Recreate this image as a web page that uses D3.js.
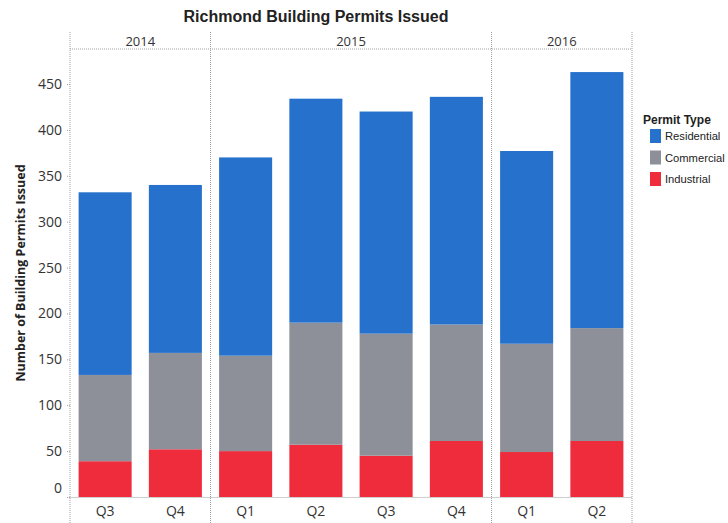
<!DOCTYPE html>
<html>
<head>
<meta charset="utf-8">
<script src="https://cdn.jsdelivr.net/npm/d3@7"></script>
<style>
  html, body { margin: 0; padding: 0; background: #fff; }
  svg { display: block; }
</style>
</head>
<body>
<svg id="chart" width="728" height="523"></svg>
<script>
// Quarterly permit counts, one entry per quarter column
const quarters = ["Q3", "Q4", "Q1", "Q2", "Q3", "Q4", "Q1", "Q2"];
const quarterYears = ["2014", "2014", "2015", "2015", "2015", "2015", "2016", "2016"];
const yearLabels = ["2014", "2015", "2016"];
const industrial  = [39, 52, 50, 57, 45, 61, 49, 61];
const commercial  = [94, 105, 104, 133, 133, 127, 118, 123];
const residential = [199, 183, 216, 244, 242, 248, 210, 279];
const permitTypes = ["Residential", "Commercial", "Industrial"];
const yTicks = [0, 50, 100, 150, 200, 250, 300, 350, 400, 450];

const colors = { Residential: "#2671cc", Commercial: "#8d9099", Industrial: "#ee2c3c" };

const rows = quarters.map((q, i) => ({
  idx: i, quarter: q, year: quarterYears[i],
  Industrial: industrial[i], Commercial: commercial[i], Residential: residential[i]
}));

const svg = d3.select("#chart");
const left = 70, right = 632, headerTop = 32, headerBottom = 49, base = 497, bottom = 523;
const lineColor = "#a0a0a0";

const x = d3.scaleBand().domain(d3.range(quarters.length)).range([left, right])
  .paddingInner(0.245).paddingOuter(0.1225);
const y = d3.scaleLinear().domain([0, 450]).range([base, 84]);

// Title
svg.append("text").attr("x", 316).attr("y", 22).attr("text-anchor", "middle")
  .attr("font-family", "Liberation Sans, Arial, sans-serif").attr("font-weight", "bold")
  .attr("font-size", 16).attr("fill", "#222").text("Richmond Building Permits Issued");

// Year panels: boundaries fall between the last quarter of one year and the first of the next
const step = x.step();
const boundaries = [left];
yearLabels.forEach(yr => {
  const idxs = rows.filter(r => r.year === yr).map(r => r.idx);
  boundaries.push(left + step * (d3.max(idxs) + 1));
});

const grid = svg.append("g").attr("stroke", lineColor).attr("stroke-width", 1)
  .attr("stroke-dasharray", "1,1").attr("fill", "none");
boundaries.forEach(b => {
  grid.append("line").attr("x1", b).attr("x2", b).attr("y1", headerTop).attr("y2", bottom);
});
grid.append("line").attr("x1", left).attr("x2", right).attr("y1", headerBottom).attr("y2", headerBottom);

// Year headers
yearLabels.forEach((yr, i) => {
  svg.append("text").attr("x", (boundaries[i] + boundaries[i + 1]) / 2).attr("y", 46)
    .attr("text-anchor", "middle").attr("font-family", "Open Sans, sans-serif")
    .attr("font-size", 13).attr("fill", "#333").text(yr);
});

// Stacked bars
const stack = d3.stack().keys(["Industrial", "Commercial", "Residential"]);
const series = stack(rows);
svg.append("g").selectAll("g").data(series).join("g")
  .attr("fill", s => colors[s.key])
  .selectAll("rect").data(s => s).join("rect")
  .attr("x", d => x(d.data.idx))
  .attr("width", x.bandwidth())
  .attr("y", d => y(d[1]))
  .attr("height", d => y(d[0]) - y(d[1]));

// Y axis
const yAxis = svg.append("g").attr("transform", `translate(${left},0)`)
  .call(d3.axisLeft(y).tickValues(yTicks).tickSize(4).tickPadding(4));
yAxis.select(".domain").remove();
yAxis.selectAll(".tick line").attr("stroke", lineColor).attr("stroke-dasharray", "1,1");
yAxis.selectAll(".tick text").attr("font-family", "Open Sans, sans-serif")
  .attr("font-size", 14).attr("fill", "#333")
  .attr("dy", d => d === 0 ? "-0.3em" : "0.32em");

// X axis
const xAxis = svg.append("g").attr("transform", `translate(0,${base})`)
  .call(d3.axisBottom(x).tickFormat(i => quarters[i]).tickSize(0).tickPadding(9));
xAxis.select(".domain").attr("stroke", lineColor).attr("stroke-dasharray", "1,1");
xAxis.selectAll(".tick text").attr("font-family", "Open Sans, sans-serif")
  .attr("font-size", 14).attr("fill", "#333");

// Y axis title
svg.append("text").attr("transform", "translate(25,273) rotate(-90)")
  .attr("text-anchor", "middle").attr("font-family", "Open Sans, sans-serif")
  .attr("font-weight", "bold").attr("font-size", 12.5).attr("fill", "#222")
  .text("Number of Building Permits Issued");

// Legend
const legend = svg.append("g").attr("font-family", "Liberation Sans, Arial, sans-serif");
legend.append("text").attr("x", 643).attr("y", 124).attr("font-weight", "bold")
  .attr("font-size", 12).attr("fill", "#222").text("Permit Type");
permitTypes.forEach((t, i) => {
  const cy = 136 + i * 21.5;
  legend.append("rect").attr("x", 650).attr("y", cy - 7).attr("width", 11).attr("height", 14)
    .attr("fill", colors[t]);
  legend.append("text").attr("x", 665).attr("y", cy + 4).attr("font-size", 11.2)
    .attr("fill", "#222").text(t);
});
</script>
</body>
</html>
